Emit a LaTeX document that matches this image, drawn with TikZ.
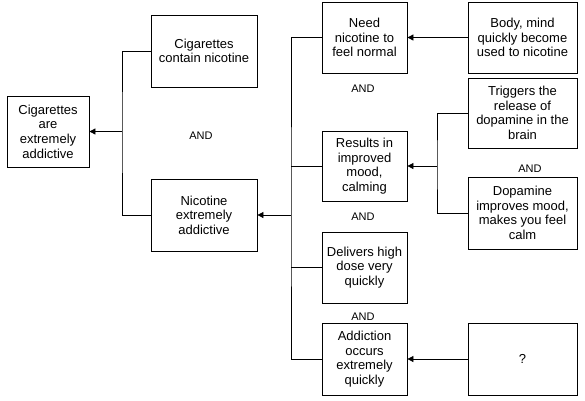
\documentclass[tikz,border=0pt]{standalone}
\usepackage{fontspec}
\setmainfont{Liberation Sans}
\usetikzlibrary{arrows.meta}
\begin{document}
\begin{tikzpicture}[x=1pt,y=-1pt,
  box/.style={draw,line width=0.8pt,align=center,inner sep=2pt,font=\fontsize{13}{14.6}\selectfont},
  wbox/.style={box,minimum width=106pt,minimum height=72pt},
  mbox/.style={box,minimum width=85pt,minimum height=71pt},
  rbox/.style={box,minimum width=109pt,minimum height=71pt},
  conn/.style={line width=0.8pt},
  arr/.style={line width=0.8pt,-{Triangle[length=6pt,width=6pt]}},
  andlbl/.style={font=\fontsize{11}{12}\selectfont,inner sep=0pt}]
\useasboundingbox (0,0) rectangle (585,400);
\node[box,minimum width=82pt,minimum height=71pt] (b1) at (48,131.5) {Cigarettes\\are\\extremely\\addictive};
\node[wbox] (b2) at (204,51) {Cigarettes\\contain nicotine};
\node[wbox] (b3) at (204,215) {Nicotine\\extremely\\addictive};
\node[mbox] (b4) at (364.5,37.5) {Need\\nicotine to\\feel normal};
\node[mbox,minimum height=70pt] (b5) at (364.5,166) {Results in\\improved\\mood,\\calming};
\node[mbox] (b6) at (364.5,267.5) {Delivers high\\dose very\\quickly};
\node[mbox,minimum height=72pt] (b7) at (364.5,359) {Addiction\\occurs\\extremely\\quickly};
\node[rbox] (b8) at (522.5,37.5) {Body, mind\\quickly become\\used to nicotine};
\node[rbox,minimum height=70pt] (b9) at (522.5,113) {Triggers the\\release of\\dopamine in the\\brain};
\node[rbox,minimum height=72pt] (b10) at (522.5,213) {Dopamine\\improves mood,\\makes you feel\\calm};
\node[rbox,minimum height=72pt] (b11) at (522.5,359) {?};
\node[andlbl] (a1) at (201,136) {AND};
\node[andlbl] (a2) at (363,89) {AND};
\node[andlbl] (a3) at (530,169) {AND};
\node[andlbl] (a4) at (363,217) {AND};
\node[andlbl] (a5) at (363,317) {AND};
\coordinate (j1) at (122,131.5);
\coordinate (j2) at (291,215);
\coordinate (j3) at (437,166);
\draw[conn] (b2.west) -| (j1) |- (b3.west);
\draw[arr] (j1) -- (b1.east);
\draw[conn] (b4.west) -| (j2) |- (b7.west);
\draw[conn] (b5.west) -- (b5.west -| j2);
\draw[conn] (b6.west) -- (b6.west -| j2);
\draw[arr] (j2) -- (b3.east);
\draw[conn] (b9.west) -| (j3) |- (b10.west);
\draw[arr] (j3) -- (b5.east);
\draw[arr] (b8.west) -- (b4.east);
\draw[arr] (b11.west) -- (b7.east);
\end{tikzpicture}
\end{document}
